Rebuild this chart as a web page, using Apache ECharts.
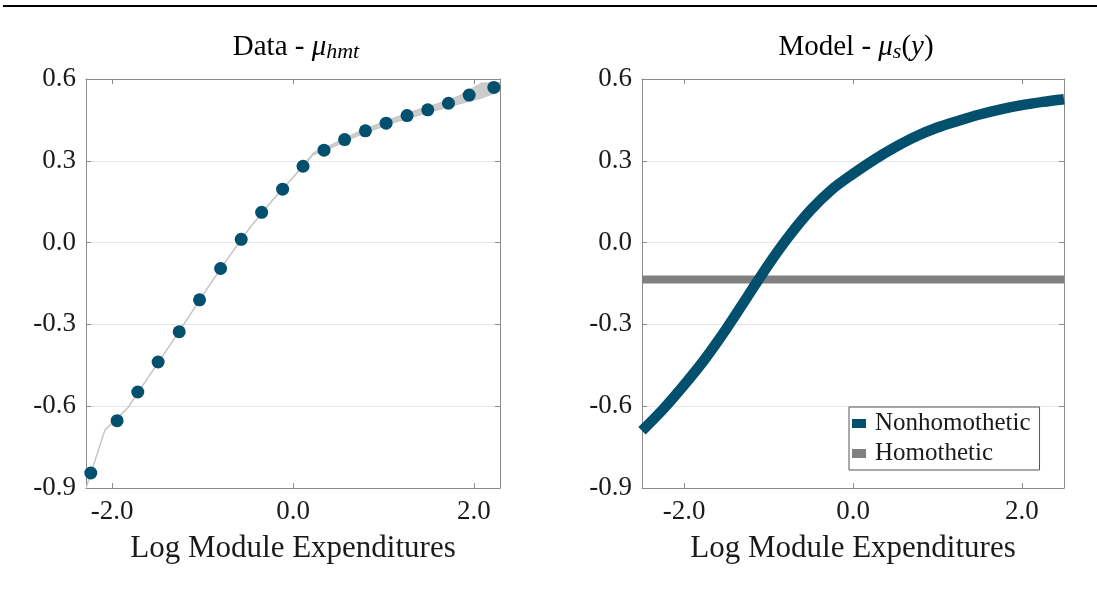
<!DOCTYPE html>
<html>
<head>
<meta charset="utf-8">
<script src="https://cdn.jsdelivr.net/npm/echarts@6/dist/echarts.min.js"></script>
<style>html,body{margin:0;padding:0;background:#fff}#c{width:1097px;height:590px}</style>
</head>
<body>
<div id="c"></div>
<script>
// ---- Data ----
const dataX = [-2.237,-1.946,-1.717,-1.492,-1.259,-1.034,-0.801,-0.573,-0.347,-0.115,0.111,0.343,0.571,0.801,1.030,1.262,1.491,1.720,1.949,2.222];
const dataY = [-0.845,-0.653,-0.548,-0.438,-0.327,-0.210,-0.095,0.012,0.111,0.196,0.280,0.339,0.378,0.410,0.438,0.466,0.487,0.511,0.541,0.569];
const bandX  = [-2.29,-2.08,-1.83,-1.60,-1.375,-1.147,-0.918,-0.687,-0.46,-0.231,-0.002,0.227,0.457,0.686,0.915,1.146,1.376,1.605,1.835,2.085,2.29];
const bandLo = [-0.902,-0.689,-0.609,-0.495,-0.385,-0.271,-0.155,-0.044,0.060,0.152,0.236,0.322,0.352,0.387,0.416,0.443,0.465,0.486,0.508,0.530,0.555];
const bandHi = [-0.898,-0.685,-0.605,-0.491,-0.381,-0.267,-0.151,-0.040,0.064,0.156,0.240,0.330,0.364,0.401,0.432,0.461,0.487,0.510,0.538,0.585,0.588];
const modelX = [-2.5,-2.25,-2.0,-1.75,-1.5,-1.25,-1.0,-0.75,-0.5,-0.25,0.0,0.25,0.5,0.75,1.0,1.25,1.5,1.75,2.0,2.25,2.5];
const nonhomY = [-0.690,-0.611,-0.522,-0.425,-0.316,-0.198,-0.080,0.027,0.120,0.195,0.252,0.304,0.350,0.390,0.422,0.447,0.470,0.489,0.504,0.516,0.526];
const homX = [-2.5, 2.5];
const homY = [-0.135, -0.135];
const xTicks = [-2, 0, 2];
const yTicks = [-0.9, -0.6, -0.3, 0.0, 0.3, 0.6];
const xName = 'Log Module Expenditures';
const seriesNames = ['Nonhomothetic', 'Homothetic'];

const FONT = 'Liberation Serif';
const BLUE = '#034f6e';
const GRAY = '#808080';
const AX = '#8c8c8c';
const TXT = '#1a1a1a';

function xAxes(grid, min, max) {
  return [
    { gridIndex: grid, type: 'value', min: min, max: max, position: 'bottom',
      axisLine: { show: true, onZero: false, lineStyle: { color: AX, width: 1 } },
      axisTick: { show: true, inside: true, length: 5, customValues: xTicks, lineStyle: { color: AX } },
      axisLabel: { customValues: xTicks, formatter: v => v.toFixed(1), fontFamily: FONT, fontSize: 27, color: TXT, margin: 10 },
      splitLine: { show: false },
      name: xName, nameLocation: 'middle', nameGap: 45,
      nameTextStyle: { fontFamily: FONT, fontSize: 31, color: TXT } },
    { gridIndex: grid, type: 'value', min: min, max: max, position: 'top',
      axisLine: { show: true, onZero: false, lineStyle: { color: AX, width: 1 } },
      axisTick: { show: true, inside: true, length: 5, customValues: xTicks, lineStyle: { color: AX } },
      axisLabel: { show: false }, splitLine: { show: false } }
  ];
}
function yAxes(grid) {
  return [
    { gridIndex: grid, type: 'value', min: -0.9, max: 0.6, interval: 0.3, position: 'left',
      axisLine: { show: true, onZero: false, lineStyle: { color: AX, width: 1 } },
      axisTick: { show: true, inside: true, length: 5, lineStyle: { color: AX } },
      axisLabel: { formatter: v => (Math.abs(v) < 1e-9 ? 0 : v).toFixed(1), fontFamily: FONT, fontSize: 27, color: TXT, margin: 10 },
      splitLine: { show: true, lineStyle: { color: '#e6e6e6', width: 1 } } },
    { gridIndex: grid, type: 'value', min: -0.9, max: 0.6, interval: 0.3, position: 'right',
      axisLine: { show: true, onZero: false, lineStyle: { color: AX, width: 1 } },
      axisTick: { show: true, inside: true, length: 5, lineStyle: { color: AX } },
      axisLabel: { show: false }, splitLine: { show: false } }
  ];
}

const chart = echarts.init(document.getElementById('c'), null, { renderer: 'canvas' });
const richT = {
  t: { fontFamily: FONT, fontSize: 29, color: TXT, lineHeight: 32 },
  m: { fontFamily: FONT, fontSize: 29, fontStyle: 'italic', color: TXT, lineHeight: 32 },
  s: { fontFamily: FONT, fontSize: 22, fontStyle: 'italic', color: TXT, lineHeight: 16, verticalAlign: 'bottom' }
};
chart.setOption({
  animation: false,
  backgroundColor: '#fff',
  grid: [
    { left: 86, top: 79, width: 414, height: 409, show: false },
    { left: 642, top: 79, width: 422, height: 409, show: false }
  ],
  xAxis: [...xAxes(0, -2.29, 2.29), ...xAxes(1, -2.5, 2.5)],
  yAxis: [...yAxes(0), ...yAxes(1)],
  legend: {
    data: [ { name: seriesNames[0], icon: 'rect' }, { name: seriesNames[1], icon: 'rect' } ],
    orient: 'vertical', left: 849, top: 407,
    itemWidth: 14, itemHeight: 9, itemGap: 5,
    padding: [4, 9, 4, 3],
    backgroundColor: '#fff', borderColor: '#555', borderWidth: 1, borderRadius: 0,
    textStyle: { fontFamily: FONT, fontSize: 25, color: TXT, lineHeight: 22, padding: [0, 0, 0, 4] },
    selectedMode: false
  },
  graphic: [
    { type: 'line', shape: { x1: 3, y1: 6, x2: 1097, y2: 6 }, style: { stroke: '#000', lineWidth: 2 } },
    { type: 'text', x: 296, y: 47, style: { text: '{t|Data - }{m|μ}{s|hmt}', align: 'center', verticalAlign: 'middle', rich: richT } },
    { type: 'text', x: 856, y: 47, style: { text: '{t|Model - }{m|μ}{s|s}{t|(}{m|y}{t|)}', align: 'center', verticalAlign: 'middle', rich: richT } }
  ],
  series: [
    { type: 'custom', xAxisIndex: 0, yAxisIndex: 0, clip: true, silent: true,
      data: bandX.map((x, i) => [x, bandLo[i], bandHi[i]]),
      renderItem: function (params, api) {
        if (params.dataIndex !== 0) return;
        const pts = [];
        for (let i = 0; i < bandX.length; i++) pts.push(api.coord([bandX[i], bandHi[i]]));
        for (let i = bandX.length - 1; i >= 0; i--) pts.push(api.coord([bandX[i], bandLo[i]]));
        return { type: 'polygon', shape: { points: pts }, style: { fill: '#cccccc', stroke: '#c4c4c4', lineWidth: 1 } };
      },
      z: 1 },
    { type: 'scatter', xAxisIndex: 0, yAxisIndex: 0, symbol: 'circle', symbolSize: 13,
      itemStyle: { color: BLUE, opacity: 1 }, data: dataX.map((x, i) => [x, dataY[i]]), z: 3 },
    { name: seriesNames[1], type: 'line', xAxisIndex: 2, yAxisIndex: 2, showSymbol: false, color: GRAY,
      lineStyle: { color: GRAY, width: 8 }, itemStyle: { color: GRAY },
      data: homX.map((x, i) => [x, homY[i]]), z: 2 },
    { name: seriesNames[0], type: 'line', xAxisIndex: 2, yAxisIndex: 2, showSymbol: false, smooth: 0.3, color: BLUE,
      lineStyle: { color: BLUE, width: 10.5 }, itemStyle: { color: BLUE },
      data: modelX.map((x, i) => [x, nonhomY[i]]), z: 3 }
  ]
});
</script>
</body>
</html>
